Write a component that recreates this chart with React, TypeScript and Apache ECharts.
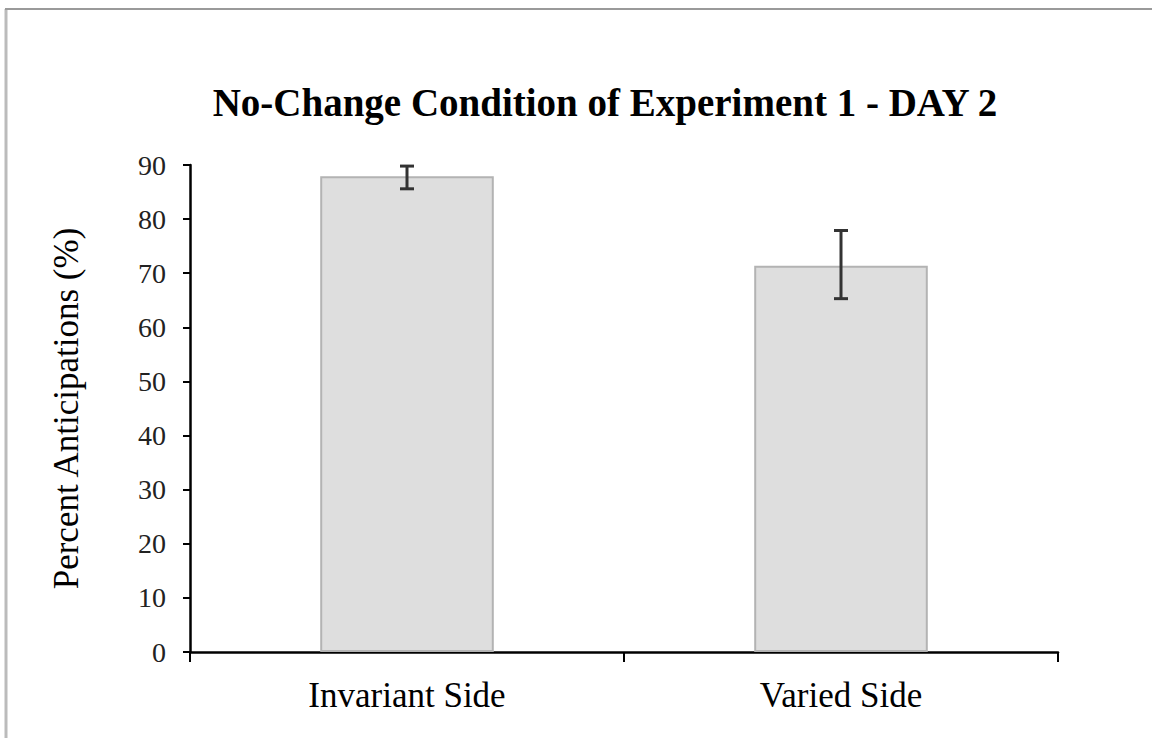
import React, { useEffect, useRef } from "react";
import * as echarts from "echarts";

const categories = ["Invariant Side", "Varied Side"];
const means = [87.9, 71.4];
const errLow = [85.6, 65.3];
const errHigh = [89.8, 77.9];
const yTicks = [0, 10, 20, 30, 40, 50, 60, 70, 80, 90];

const FONT = "'Liberation Serif', 'Times New Roman', serif";

export default function App() {
  const ref = useRef<HTMLDivElement>(null);
  useEffect(() => {
    document.body.style.margin = "0";
    if (!ref.current) return;
    const chart = echarts.init(ref.current, undefined, { renderer: "svg" });
    chart.setOption({
      animation: false,
      backgroundColor: "#ffffff",
      title: {
        text: "No-Change Condition of Experiment 1 - DAY 2",
        left: 600,
        textAlign: "center",
        top: 78,
        textStyle: { fontFamily: FONT, fontWeight: "bold", fontSize: 39, color: "#000" },
      },
      graphic: [
        { type: "line", shape: { x1: 6, y1: 9, x2: 6, y2: 738 }, style: { stroke: "#bbbbbb", lineWidth: 3 } },
        { type: "line", shape: { x1: 5, y1: 9, x2: 1152, y2: 9 }, style: { stroke: "#9a9a9a", lineWidth: 2 } },
      ],
      grid: { left: 190, right: 94, top: 165, bottom: 86, containLabel: false },
      xAxis: {
        type: "category",
        data: categories,
        axisLine: { lineStyle: { color: "#000", width: 2.5 } },
        axisTick: { show: true, length: 10, lineStyle: { color: "#000", width: 2 } },
        axisLabel: { fontFamily: FONT, fontSize: 35, color: "#000", margin: 26 },
      },
      yAxis: {
        type: "value",
        min: 0,
        max: 90,
        interval: 10,
        name: "Percent Anticipations (%)",
        nameLocation: "middle",
        nameGap: 106,
        nameTextStyle: { fontFamily: FONT, fontSize: 35, color: "#000" },
        axisLine: { show: true, lineStyle: { color: "#000", width: 2.5 } },
        axisTick: { show: true, length: 7, lineStyle: { color: "#000", width: 2 } },
        axisLabel: {
          fontFamily: FONT,
          fontSize: 28,
          color: "#222",
          margin: 24,
          formatter: (v: number) => (yTicks.includes(v) ? String(v) : ""),
        },
        splitLine: { show: false },
      },
      series: [
        {
          type: "bar",
          data: means,
          barWidth: "40%",
          itemStyle: { color: "#dedede", borderColor: "#b3b3b3", borderWidth: 2 },
        },
        {
          type: "custom",
          data: categories.map((_, i) => [i, errLow[i], errHigh[i]]),
          renderItem: (params: any, api: any) => {
            const x = api.value(0);
            const lo = api.coord([x, api.value(1)]);
            const hi = api.coord([x, api.value(2)]);
            const cap = 7;
            const style = { stroke: "#333", lineWidth: 3 };
            return {
              type: "group",
              children: [
                { type: "line", shape: { x1: hi[0], y1: hi[1], x2: lo[0], y2: lo[1] }, style },
                { type: "line", shape: { x1: hi[0] - cap, y1: hi[1], x2: hi[0] + cap, y2: hi[1] }, style },
                { type: "line", shape: { x1: lo[0] - cap, y1: lo[1], x2: lo[0] + cap, y2: lo[1] }, style },
              ],
            };
          },
          z: 10,
        },
      ],
    });
    return () => chart.dispose();
  }, []);
  return <div ref={ref} style={{ width: 1152, height: 738 }} />;
}
